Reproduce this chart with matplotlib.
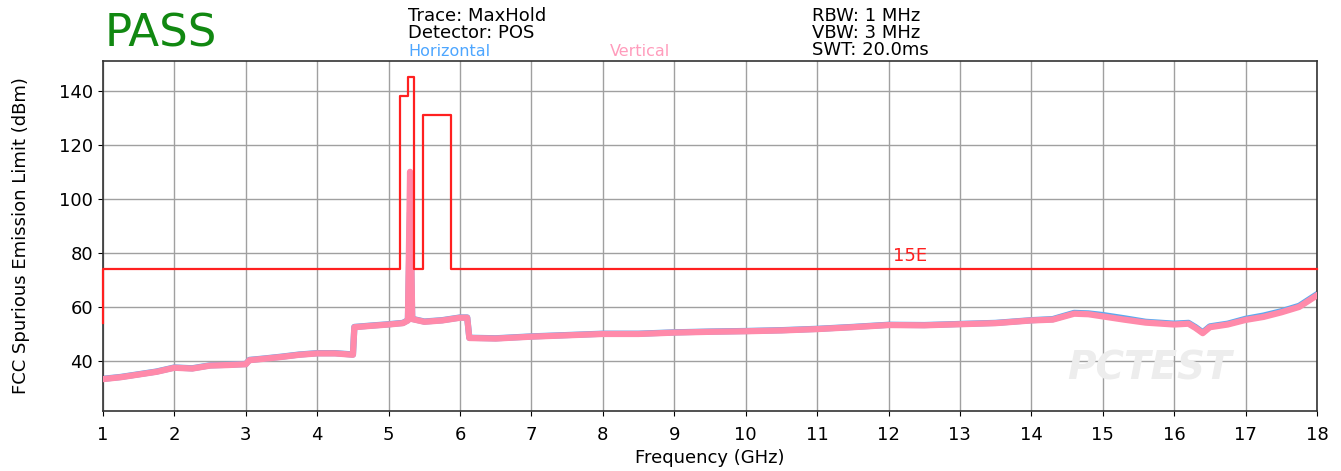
import matplotlib
matplotlib.use('Agg')
import matplotlib.pyplot as plt

# frequencies (GHz) and levels (dBm)
freq = [1.0, 1.25, 1.5, 1.75, 2.0, 2.25, 2.5, 2.75, 3.0, 3.05, 3.25, 3.5, 3.75, 4.0, 4.25, 4.5,
        4.52, 4.75, 5.0, 5.2, 5.27, 5.30, 5.33, 5.5, 5.75, 6.0, 6.1,
        6.13, 6.5, 7.0, 7.5, 8.0, 8.5, 9.0, 9.5, 10.0, 10.5, 11.0, 11.5, 12.0, 12.5,
        13.0, 13.5, 14.0, 14.3, 14.6, 14.8, 15.0, 15.3, 15.6, 16.0, 16.2, 16.3, 16.4,
        16.5, 16.75, 17.0, 17.25, 17.5, 17.75, 18.0]
vert = [33.3, 34.0, 35.0, 36.0, 37.5, 37.2, 38.3, 38.5, 38.8, 40.3, 40.8, 41.5, 42.3, 42.8, 42.8, 42.3,
        52.5, 53.0, 53.5, 54.0, 55.0, 110.0, 55.5, 54.5, 55.0, 56.0, 56.0,
        48.5, 48.3, 49.0, 49.5, 50.0, 50.0, 50.5, 50.8, 51.0, 51.3, 51.8, 52.5, 53.3, 53.2,
        53.6, 54.0, 55.0, 55.3, 57.5, 57.3, 56.5, 55.3, 54.2, 53.5, 53.8, 52.2, 50.3,
        52.5, 53.5, 55.2, 56.3, 58.0, 60.0, 64.3]
horiz = [33.4, 34.1, 35.1, 36.1, 37.6, 37.3, 38.4, 38.6, 38.9, 40.4, 40.9, 41.6, 42.4, 42.9, 42.9, 42.4,
         52.6, 53.1, 53.6, 54.1, 55.1, 95.0, 55.6, 54.6, 55.1, 56.1, 56.1,
         48.6, 48.4, 49.1, 49.6, 50.1, 50.1, 50.6, 50.9, 51.1, 51.4, 51.9, 52.6, 53.4, 53.3,
         53.7, 54.1, 55.1, 55.5, 57.8, 57.6, 57.0, 55.8, 54.5, 53.8, 54.1, 52.5, 50.6,
         52.8, 53.8, 55.6, 56.8, 58.4, 60.4, 64.7]

# FCC 15E limit line
lim_f = [1.0, 1.0, 5.16, 5.16, 5.27, 5.27, 5.36, 5.36, 5.48, 5.48, 5.87, 5.87, 18.0]
lim_v = [54.0, 74.0, 74.0, 137.9, 137.9, 145.2, 145.2, 74.0, 74.0, 131.1, 131.1, 74.0, 74.0]

fig = plt.figure(figsize=(13.41, 4.71), dpi=100)
ax = fig.add_axes([0.0768, 0.1274, 0.9053, 0.7431])

ax.plot(freq, horiz, color='#5aa9f0', lw=4.5, zorder=2)
ax.plot(freq, vert, color='#ff8aaa', lw=4.5, zorder=3)
ax.plot(lim_f, lim_v, color='#ff2020', lw=1.6, zorder=4, clip_on=False)

ax.text(12.3, 75.5, '15E', color='#ff2020', fontsize=13, ha='center', va='bottom')
ax.text(0.93, 0.12, 'PCTEST', transform=ax.transAxes, color='#ededed', fontsize=28,
        fontstyle='italic', fontweight='bold', ha='right', va='center', zorder=1)

ax.set_xlim(1, 18)
ax.set_ylim(21.5, 151)
ax.set_xticks(range(1, 19))
ax.set_yticks([40, 60, 80, 100, 120, 140])
ax.grid(True, color='#a0a0a0', lw=1)
ax.set_axisbelow(True)
ax.tick_params(labelsize=13)
ax.tick_params(axis='x', pad=7)
for s in ax.spines.values():
    s.set_color('#333333')
    s.set_linewidth(1.2)
ax.set_xlabel('Frequency (GHz)', fontsize=13, labelpad=4)
ax.set_ylabel('FCC Spurious Emission Limit (dBm)', fontsize=13, labelpad=21)

fig.text(105 / 1341, 1 - 34 / 471, 'PASS', color='#118811', fontsize=32.5, va='center', ha='left')
fig.text(408 / 1341, 1 - 16 / 471, 'Trace: MaxHold', fontsize=13, va='center')
fig.text(408 / 1341, 1 - 33 / 471, 'Detector: POS', fontsize=13, va='center')
fig.text(408 / 1341, 1 - 52 / 471, 'Horizontal', color='#4da6ff', fontsize=11.5, va='center')
fig.text(610 / 1341, 1 - 52 / 471, 'Vertical', color='#ff9cbc', fontsize=11.5, va='center')
fig.text(812 / 1341, 1 - 16 / 471, 'RBW: 1 MHz', fontsize=13, va='center')
fig.text(812 / 1341, 1 - 33 / 471, 'VBW: 3 MHz', fontsize=13, va='center')
fig.text(812 / 1341, 1 - 50 / 471, 'SWT: 20.0ms', fontsize=13, va='center')

fig.savefig('out.png', dpi=100)
